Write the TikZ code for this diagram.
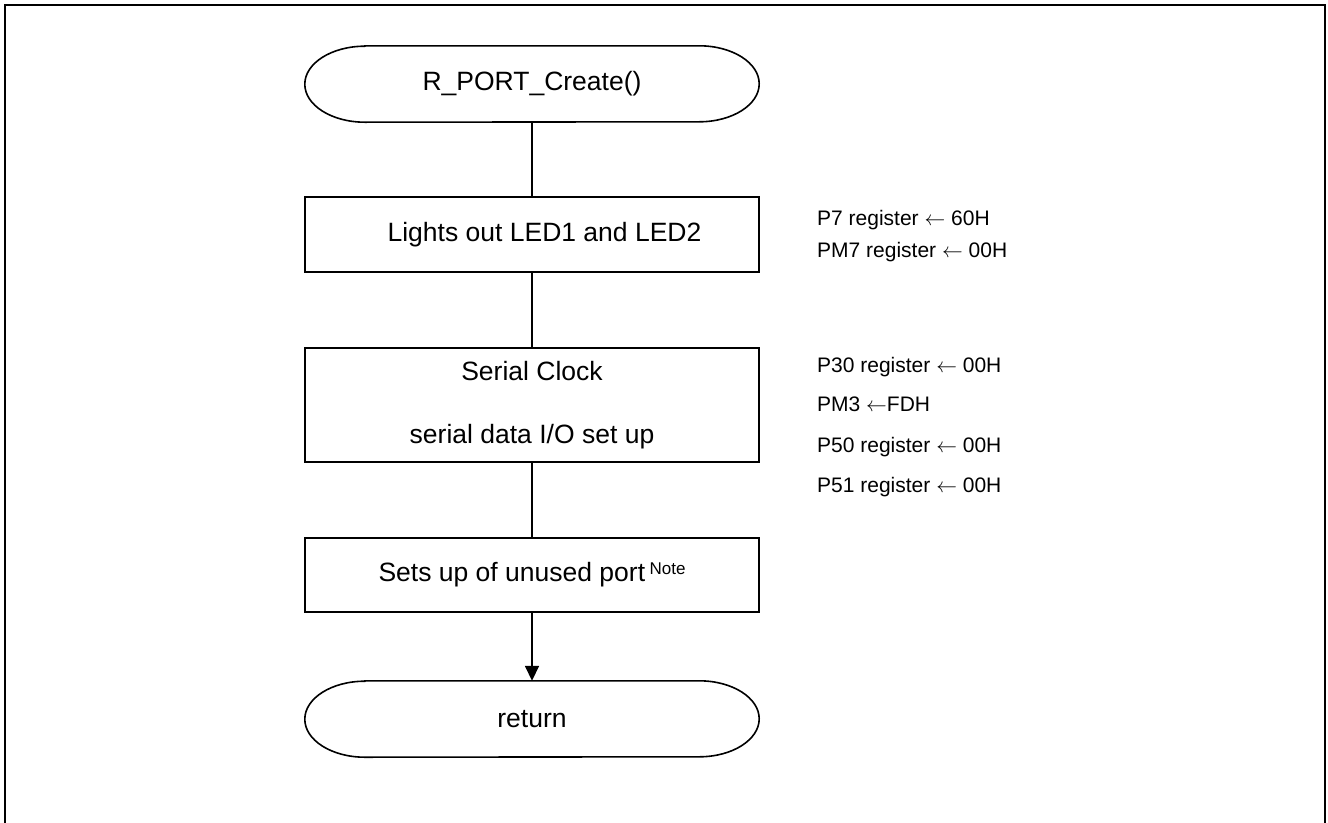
\documentclass[tikz,border=0pt]{standalone}
\usepackage{fontspec}
\setmainfont{Liberation Sans}
\usetikzlibrary{arrows.meta}
\newcommand\termpath[1]{\draw[conn] ([xshift=60pt]#1.north west) -- ([xshift=-60pt]#1.north east) arc[start angle=90,end angle=-90,x radius=60pt,y radius=38pt] -- ([xshift=60pt]#1.south west) arc[start angle=270,end angle=90,x radius=60pt,y radius=38pt] -- cycle;}
\begin{document}
\begin{tikzpicture}[x=1pt,y=-1pt,
  every node/.style={font=\fontsize{26.5}{32}\selectfont, inner sep=0pt},
  conn/.style={line width=1.6pt},
  proc/.style={draw, line width=1.6pt, minimum width=454pt, align=center},
  term/.style={minimum width=454pt, minimum height=76pt},
  note/.style={anchor=base west, font=\fontsize{21}{25}\selectfont}]
\useasboundingbox (0,0) rectangle (1328,822);
\draw[line width=2pt] (5,830) -- (5,5) -- (1325,5) -- (1325,830);

\node[term] (start) at (532,84) {R\_PORT\_Create()};
\termpath{start}
\node[proc, minimum height=75pt] (b1) at (532,234.5) {\hspace*{25pt}Lights out LED1 and LED2};
\node[proc, minimum height=114pt, font=\fontsize{26.5}{63}\selectfont] (b2) at (532,405) {Serial Clock\\serial data I/O set up};
\node[proc, minimum height=74pt] (b3) at (532,575) {Sets up of unused port\,\raisebox{7pt}{\fontsize{17}{17}\selectfont Note}};
\node[term] (end) at (532,719) {return};
\termpath{end}

\draw[conn] (start.south) -- (b1.north);
\draw[conn] (b1.south) -- (b2.north);
\draw[conn] (b2.south) -- (b3.north);
\draw[conn, -{Triangle[width=14pt,length=15pt]}] (b3.south) -- (end.north);

\node[note] (n1) at (817,225) {P7 register $\leftarrow$ 60H};
\node[note] (n2) at (817,257) {PM7 register $\leftarrow$ 00H};
\node[note] (n3) at (817,372) {P30 register $\leftarrow$ 00H};
\node[note] (n4) at (817,411) {PM3 $\leftarrow$FDH};
\node[note] (n5) at (817,452) {P50 register $\leftarrow$ 00H};
\node[note] (n6) at (817,492) {P51 register $\leftarrow$ 00H};
\end{tikzpicture}
\end{document}
